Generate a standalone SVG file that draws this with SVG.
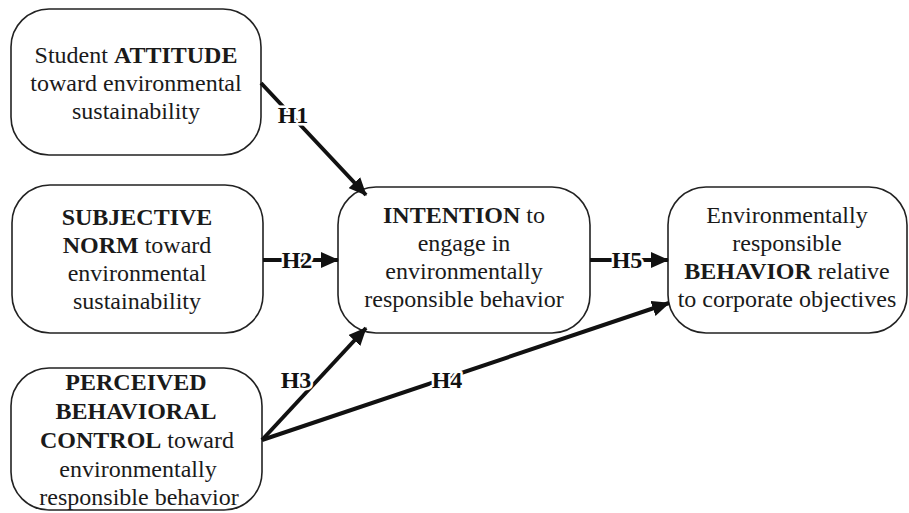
<svg xmlns="http://www.w3.org/2000/svg" width="909" height="513" viewBox="0 0 909 513">
<style>
.box{fill:#fff;stroke:#222;stroke-width:1.6}
.t{font-family:"Liberation Serif","Times New Roman",serif;font-size:24px;fill:#1a1a1a;text-anchor:middle}
.b{font-weight:bold}
.ln{stroke:#111;stroke-width:4;fill:none}
.lbl{font-family:"Liberation Serif","Times New Roman",serif;font-size:24px;font-weight:bold;fill:#111;text-anchor:middle;stroke:#fff;stroke-width:5;paint-order:stroke;stroke-linejoin:round}
</style>
<defs>
<marker id="ah" markerUnits="userSpaceOnUse" markerWidth="18" markerHeight="16" viewBox="0 0 18 16" refX="17" refY="8" orient="auto">
<path d="M0,0 L18,8 L0,16 z" fill="#111"/>
</marker>
</defs>
<rect width="909" height="513" fill="#fff"/>
<g id="attitude">
<rect class="box" x="11" y="9" width="250" height="146" rx="38"/>
<text class="t" x="136" y="63">Student <tspan class="b">ATTITUDE</tspan></text>
<text class="t" x="136" y="91">toward environmental</text>
<text class="t" x="136" y="119">sustainability</text>
</g>
<g id="norm">
<rect class="box" x="12" y="185" width="251" height="148" rx="38"/>
<text class="t b" x="137" y="225">SUBJECTIVE</text>
<text class="t" x="137" y="253"><tspan class="b">NORM</tspan> toward</text>
<text class="t" x="137" y="281">environmental</text>
<text class="t" x="137" y="309">sustainability</text>
</g>
<g id="pbc">
<rect class="box" x="11" y="368" width="251" height="142" rx="38"/>
<text class="t b" x="136" y="390">PERCEIVED</text>
<text class="t b" x="136" y="419">BEHAVIORAL</text>
<text class="t" x="137" y="448"><tspan class="b">CONTROL</tspan> toward</text>
<text class="t" x="138" y="477">environmentally</text>
<text class="t" x="139" y="505">responsible behavior</text>
</g>
<g id="intention">
<rect class="box" x="338" y="187" width="252" height="146" rx="38"/>
<text class="t" x="464" y="223"><tspan class="b">INTENTION</tspan> to</text>
<text class="t" x="464" y="251">engage in</text>
<text class="t" x="464" y="279">environmentally</text>
<text class="t" x="464" y="307">responsible behavior</text>
</g>
<g id="behavior">
<rect class="box" x="668" y="187" width="239" height="146" rx="38"/>
<text class="t" x="787" y="223">Environmentally</text>
<text class="t" x="787" y="251">responsible</text>
<text class="t" x="787" y="279"><tspan class="b">BEHAVIOR</tspan> relative</text>
<text class="t" x="787" y="307">to corporate objectives</text>
</g>
<g id="connectors">
<line class="ln" x1="261" y1="83" x2="366" y2="195" marker-end="url(#ah)"/>
<line class="ln" x1="263" y1="260" x2="338" y2="260" marker-end="url(#ah)"/>
<line class="ln" x1="262" y1="440" x2="366" y2="328" marker-end="url(#ah)"/>
<line class="ln" x1="262" y1="440" x2="669" y2="303" marker-end="url(#ah)"/>
<line class="ln" x1="590" y1="260" x2="668" y2="260" marker-end="url(#ah)"/>
<text class="lbl" x="293" y="123">H1</text>
<text class="lbl" x="297" y="268">H2</text>
<text class="lbl" x="296" y="388">H3</text>
<text class="lbl" x="447" y="388">H4</text>
<text class="lbl" x="627" y="268">H5</text>
</g>
</svg>
